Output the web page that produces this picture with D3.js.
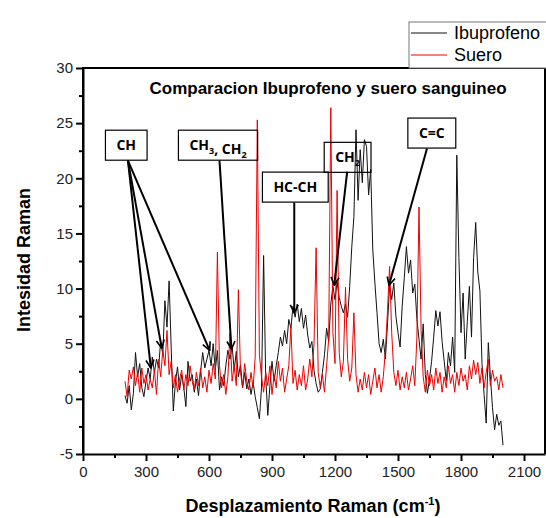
<!DOCTYPE html>
<html>
<head>
<meta charset="utf-8">
<style>
  body { margin: 0; background: #fff; }
  svg { font-family: "Liberation Sans", Arial, sans-serif; }
  .tick text { font-size: 15px; fill: #222; }
</style>
<title>Comparacion Ibuprofeno y suero sanguineo</title>
</head>
<body>
<script src="https://cdn.jsdelivr.net/npm/d3@7/dist/d3.min.js"></script>
<script>

// DATA (Raman shift 200..2000 cm-1, every 10)
var shifts = d3.range(200, 2001, 10);

var ibuprofeno = [
  0.3, -0.4, 1.2, -1.0, 0.5, 4.2, 2.0, 3.2, 1.0, 0.2,
  1.6, 2.8, 1.8, 3.8, 2.4, 3.6, 2.8, 5.3, 4.0, 8.9,
  6.5, 10.7, 4.6, -1.1, 1.5, 2.9, 0.8, 2.2, 1.0, -0.7,
  3.4, 1.6, 2.2, 0.6, 1.8, 0.3, 2.5, 4.2, 2.8, 3.6,
  4.4, 3.0, 5.0, 2.6, 4.4, 0.8, 2.0, 1.2, 3.0, 4.4,
  3.6, 4.8, 2.6, 4.3, 2.0, 3.1, 1.0, 2.4, 0.9, 1.8,
  0.4, 1.5, 0.2, -0.8, -1.8, 1.0, 13.0, 2.0, -1.5, 1.2,
  3.4, 1.6, 3.0, 4.2, 5.6, 4.8, 6.2, 5.0, 7.2, 6.4,
  8.4, 7.4, 8.6, 7.0, 8.2, 6.4, 7.6, 5.8, 4.6, 5.2,
  2.6, 1.4, 0.6, 0.9, 2.4, 4.0, 6.4, 5.2, 8.6, 10.2,
  9.0, 10.6, 9.2, 8.4, 7.8, 8.6, 7.4, 10.2, 13.8, 16.5,
  24.4, 18.0, 22.6, 19.6, 23.5, 22.9, 18.5, 20.8, 13.5, 10.5,
  7.8, 5.0, 4.2, 5.4, 3.6, 6.8, 10.3, 9.0, 10.5, 7.5,
  6.0, 4.7, 8.4, 11.0, 13.8, 11.4, 12.6, 9.6, 10.4, 7.2,
  5.4, 3.6, 6.8, 2.2, 0.5, 1.8, 3.4, 5.6, 8.0, 6.6,
  7.9, 5.2, 3.4, 1.6, 4.2, 3.0, 5.6, 2.4, 22.1, 12.8,
  6.0, 9.6, 3.6, 7.0, 10.2, 5.6, 12.8, 16.0, 11.5, 9.8,
  3.2, 0.4, -2.2, 5.1, 2.0, -0.8, -2.8, -1.4, -2.4, -2.0,
  -4.2
];

var suero = [
  1.6, 0.2, 2.6, 1.8, 2.9, 1.2, 2.4, 0.6, 2.8, 1.4,
  2.2, 0.8, 1.8, 1.0, 2.6, 0.4, 3.6, 2.0, 4.4, 3.0,
  6.2, 2.2, 3.4, 1.0, 2.2, 0.6, 1.8, 2.6, 0.8, 2.2,
  1.2, 3.0, 1.6, 0.8, 2.4, 1.2, 2.8, 1.0, 2.0, 0.6,
  2.6, 1.4, 3.2, 1.8, 13.3, 3.0, 1.0, 2.2, 0.4, 2.0,
  6.0, 1.6, 3.0, 1.2, 9.9, 2.4, 1.0, 3.2, 1.6, 0.8,
  2.4, 1.0, 3.8, 25.3, 4.0, 2.0, 0.6, 2.4, 1.2, 3.0,
  0.4, 2.2, 1.0, 3.4, 1.6, 2.8, 0.6, 1.8, 3.0, 6.6,
  1.4, 2.6, 0.8, 2.2, 1.2, 3.0, 0.8, 1.8, 3.6, 2.0,
  5.0, 13.7, 2.4, 1.0, 2.2, 0.6, 3.0, 5.4, 26.4, 6.0,
  3.2, 18.9, 4.2, 2.0, 3.4, 10.1, 3.6, 1.6, 2.8, 7.8,
  2.2, 0.6, 1.8, 0.8, 2.4, 1.0, 2.2, 0.4, 1.6, 2.8,
  1.0, 2.2, 0.6, 2.0, 4.4, 8.0, 12.0, 6.0, 2.4, 1.2,
  2.6, 0.8, 2.0, 1.0, 2.4, 0.8, 1.8, 3.0, 1.2, 5.6,
  17.4, 6.2, 2.0, 0.6, 2.6, 1.2, 2.2, 0.8, 2.8, 1.4,
  2.4, 0.6, 2.0, 1.0, 3.0, 1.4, 2.2, 0.6, 2.4, 1.2,
  2.8, 1.6, 2.2, 0.8, 3.0, 1.8, 3.5, 2.2, 3.3, 1.4,
  2.8, 1.0, 2.4, 3.6, 1.2, 2.6, 1.6, 2.0, 0.8, 2.2,
  1.0
];

var seriesNames = ["Ibuprofeno", "Suero"];
var seriesColors = ["#111111", "#ee0000"];

var xTicks = d3.range(0, 2101, 150);
var yTicks = d3.range(-5, 30.1, 2.5);

// annotation boxes (data coords of box centre)
var boxLabels = ["CH", "CH3, CH2", "HC-CH", "CH2", "C=C"];
var boxX = [206, 643, 1011, 1260, 1661];
var boxY = [23.0, 23.0, 19.2, 21.9, 24.1];

// arrows: [fromX, fromY, toX, toY]
var arrows = [
  [214, 21.6, 323, 2.8],
  [214, 21.6, 375, 4.6],
  [214, 21.6, 603, 4.4],
  [650, 21.6, 707, 4.5],
  [1006, 17.8, 1006, 7.8],
  [1258, 20.6, 1196, 10.3],
  [1638, 22.7, 1457, 10.3]
];

var width = 546, height = 518;
var margin = {top: 68, right: 1, bottom: 64, left: 83};
var w = width - margin.left - margin.right,
    h = height - margin.top - margin.bottom;

var x = d3.scaleLinear().domain([0, 2200]).range([0, w]);
var y = d3.scaleLinear().domain([-5, 30]).range([h, 0]);

var svg = d3.select("body").append("svg")
    .attr("width", width)
    .attr("height", height);

var g = svg.append("g").attr("transform", "translate(" + margin.left + "," + margin.top + ")");

// LINES
var line = d3.line()
    .x(function(d, i) { return x(shifts[i]); })
    .y(function(d) { return y(d); });

[ibuprofeno, suero].forEach(function(s, k) {
  g.append("path")
    .datum(s)
    .attr("fill", "none")
    .attr("stroke", seriesColors[k])
    .attr("stroke-width", 1)
    .attr("stroke-linejoin", "round")
    .attr("d", line);
});

// FRAME
g.append("path")
  .attr("d", "M0," + h + " V0 H" + w + " V" + h)
  .attr("fill", "none")
  .attr("stroke", "#000")
  .attr("stroke-width", 2);

// AXES
var xAxis = g.append("g")
  .attr("transform", "translate(0," + h + ")")
  .call(d3.axisBottom(x).tickValues(xTicks).tickSizeOuter(0)
    .tickFormat(function(d) { return d % 300 === 0 ? d : ""; }));

xAxis.selectAll(".tick line")
  .attr("y2", function(d) { return d % 300 === 0 ? 7 : 4; })
  .attr("stroke-width", 2);
xAxis.selectAll(".tick text").attr("y", 12);

var yAxis = g.append("g")
  .call(d3.axisLeft(y).tickValues(yTicks).tickSizeOuter(0)
    .tickFormat(function(d) { return d % 5 === 0 ? d : ""; }));

yAxis.selectAll(".tick line")
  .attr("x2", function(d) { return d % 5 === 0 ? -7 : -4; })
  .attr("stroke-width", 2);
yAxis.selectAll(".tick text").attr("x", -10);

g.selectAll(".domain").attr("stroke-width", 2);

// TITLES
g.append("text")
  .attr("x", 245)
  .attr("y", 26)
  .attr("text-anchor", "middle")
  .style("font-weight", "bold")
  .style("font-size", "17px")
  .text("Comparacion Ibuprofeno y suero sanguineo");

var xl = svg.append("text")
  .attr("x", 313)
  .attr("y", 512)
  .attr("text-anchor", "middle")
  .style("font-weight", "bold")
  .style("font-size", "18px");
xl.append("tspan").text("Desplazamiento Raman (cm");
xl.append("tspan").attr("dy", -7).style("font-size", "11px").text("-1");
xl.append("tspan").attr("dy", 7).text(")");

svg.append("text")
  .attr("transform", "translate(30," + (margin.top + 192) + ") rotate(-90)")
  .attr("text-anchor", "middle")
  .style("font-weight", "bold")
  .style("font-size", "18px")
  .text("Intesidad Raman");

// LEGEND
var legend = svg.append("g").attr("transform", "translate(409,22)");
legend.append("rect")
  .attr("width", 140).attr("height", 46)
  .attr("fill", "#fff")
  .attr("stroke", "#777").attr("stroke-width", 1);

seriesNames.forEach(function(n, i) {
  legend.append("line")
    .attr("x1", 2).attr("x2", 38)
    .attr("y1", 11 + i * 22).attr("y2", 11 + i * 22)
    .attr("stroke", seriesColors[i]).attr("stroke-width", 1);
  legend.append("text")
    .attr("x", 45).attr("y", 17 + i * 22)
    .style("font-size", "18px")
    .text(n);
});

// ANNOTATIONS
svg.append("defs").append("marker")
  .attr("id", "head")
  .attr("viewBox", "0 0 10 10")
  .attr("refX", 9).attr("refY", 5)
  .attr("markerWidth", 5).attr("markerHeight", 5)
  .attr("markerUnits", "strokeWidth")
  .attr("orient", "auto")
  .append("path")
  .attr("d", "M1,1 L9,5 L1,9")
  .attr("fill", "none")
  .attr("stroke", "#000")
  .attr("stroke-width", 1.6);

g.selectAll(".arrow")
  .data(arrows)
  .enter().append("line")
  .attr("class", "arrow")
  .attr("x1", function(d) { return x(d[0]); })
  .attr("y1", function(d) { return y(d[1]); })
  .attr("x2", function(d) { return x(d[2]); })
  .attr("y2", function(d) { return y(d[3]); })
  .attr("stroke", "#000")
  .attr("stroke-width", 2)
  .attr("marker-end", "url(#head)");

boxLabels.forEach(function(lab, i) {
  var bx = x(boxX[i]), by = y(boxY[i]);
  var box = g.append("g").attr("class", "annot");
  var rect = box.append("rect");
  var t = box.append("text")
    .attr("x", bx).attr("y", by + 5)
    .attr("text-anchor", "middle")
    .style("font-family", "'Open Sans', sans-serif")
    .style("font-weight", "bold")
    .style("font-size", "14px");
  // subscripts
  var parts = lab.match(/[^0-9]+|[0-9]/g);
  parts.forEach(function(p) {
    if (/[0-9]/.test(p)) {
      t.append("tspan").attr("dy", 4).style("font-size", "9px").text(p);
      t.append("tspan").attr("dy", -4).text("");
    } else {
      t.append("tspan").text(p);
    }
  });
  var bb = t.node().getBBox();
  rect
    .attr("x", bx - bb.width / 2 - 11)
    .attr("y", by - 15)
    .attr("width", bb.width + 22)
    .attr("height", 30)
    .attr("fill", "none")
    .attr("stroke", "#000")
    .attr("stroke-width", 1.2);
});

</script>
</body>
</html>
